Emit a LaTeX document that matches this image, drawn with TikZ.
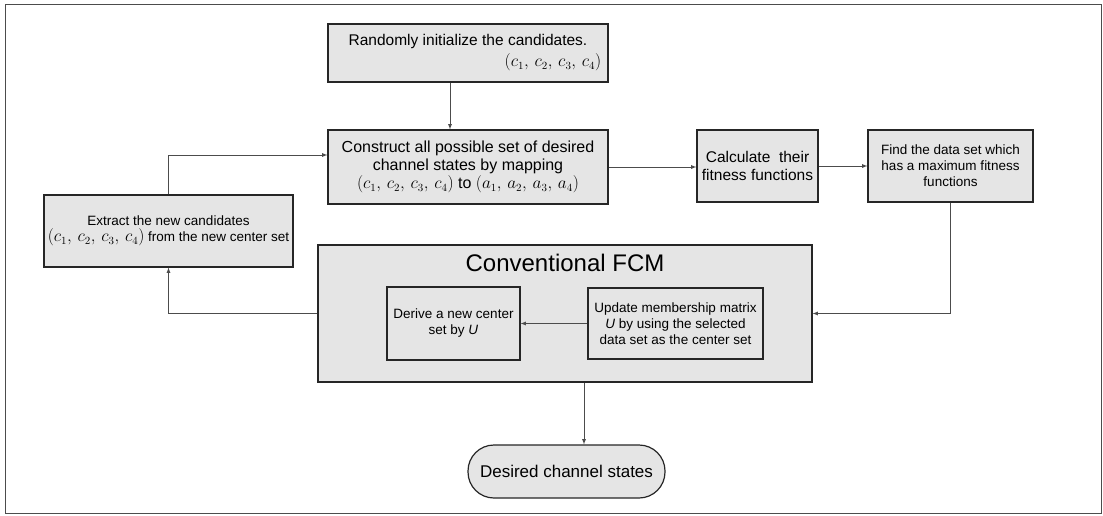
\documentclass[tikz,border=0pt]{standalone}
\usepackage{fontspec}
\setmainfont{Liberation Sans}
\usetikzlibrary{arrows}
\newcommand{\tuple}[2]{{\fontsize{16}{17}\selectfont$(#1_1,#2#1_2,#2#1_3,#2#1_4)$}}
\begin{document}
\begin{tikzpicture}
      [
      x=1pt, y=-1pt,
      font=\fontsize{13.5}{16}\selectfont,
      block/.style={draw=black!85,line width=1.2pt,fill=black!10,rectangle,inner sep=0pt,align=center},
      flow/.style={draw=black!70,line width=0.8pt,-latex}
      ]
      \useasboundingbox (0,0) rectangle (1103,515);
      \draw [black!70, line width=1pt] (5,4) rectangle (1101,513);

      \node (fcm) at (565,313.5) [block,minimum width=494pt,minimum height=137pt] {};
      \node (title) at (565,263) {\fontsize{24}{26}\selectfont Conventional FCM};

      \node (init) at (468,53) [block,minimum width=280pt,minimum height=58pt,align=right,
        font=\fontsize{15.5}{21}\selectfont]
        {Randomly initialize the candidates.\\ \tuple{c}{\,}\kern-14pt};
      \node (construct) at (468,167) [block,minimum width=280pt,minimum height=74pt,
        font=\fontsize{16}{18}\selectfont]
        {Construct all possible set of desired\\ channel states by mapping\\ \tuple{c}{\,} to \tuple{a}{\,}};
      \node (calc) at (757.5,166) [block,minimum width=121pt,minimum height=72pt,
        font=\fontsize{15.5}{18}\selectfont]
        {Calculate\ \ their\\ fitness functions};
      \node (find) at (950.5,166) [block,minimum width=165pt,minimum height=72pt]
        {Find the data set which\\ has a maximum fitness\\ functions};
      \node (extract) at (168.5,231) [block,minimum width=249pt,minimum height=72pt]
        {Extract the new candidates\\ \tuple{c}{\,} from the new center set};
      \node (derive) at (453.5,323.5) [block,minimum width=133pt,minimum height=73pt]
        {Derive a new center\\ set by \textit{U}};
      \node (update) at (675.5,323.5) [block,minimum width=175pt,minimum height=71pt]
        {Update membership matrix\\ \textit{U} by using the selected\\ data set as the center set};
      \node (desired) at (566.5,471.5) [block,minimum width=197pt,minimum height=53pt,rounded corners=26pt,
        font=\fontsize{17}{20}\selectfont]
        {Desired channel states};

      \draw [flow] ([xshift=-18pt]init.south) -- ([xshift=-18pt]construct.north);
      \draw [flow] (construct.east) -- (construct.east -| calc.west);
      \draw [flow] (calc.east) -- (calc.east -| find.west);
      \draw [flow] (find.south) |- (fcm.east);
      \draw [flow] (fcm.west) -| (extract.south);
      \draw [flow] (extract.north) |- ([yshift=12pt]construct.west);
      \draw [flow] (update.west) -- (derive.east);
      \draw [flow] ([xshift=19pt]fcm.south) -- ([xshift=19pt]fcm.south |- desired.north);
    \end{tikzpicture}
\end{document}
